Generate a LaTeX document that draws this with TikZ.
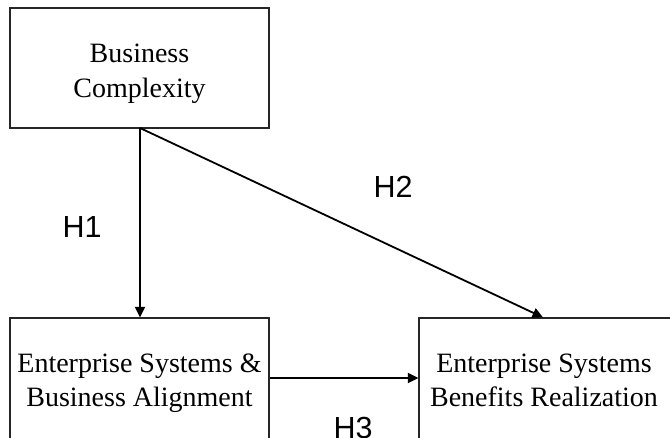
\documentclass[tikz,border=0pt]{standalone}
\usepackage{fontspec}
\setmainfont{Liberation Serif}
\newfontfamily\hfont{Liberation Sans}
\usetikzlibrary{arrows.meta}
\tikzset{
  boxnode/.style={draw=black!85, line width=1.2pt, rectangle, inner sep=0pt},
  boxtext/.style={align=center, inner sep=0pt, font=\fontsize{28}{34.5}\selectfont},
  hlabel/.style={inner sep=0pt, anchor=base, font=\hfont\fontsize{30.5}{34}\selectfont},
  conn/.style={line width=1.8pt, -{Triangle[length=10.5pt,width=10pt]}}
}
\begin{document}
\begin{tikzpicture}[x=1pt,y=-1pt]
\useasboundingbox (0,0) rectangle (670,437);
\clip (0,0) rectangle (670,437);
\fill[white] (0,0) rectangle (670,437);
\node[boxnode, minimum width=259pt, minimum height=120pt] (bc) at (139.5,68) {};
\node[boxnode, minimum width=259pt, minimum height=128pt] (ea) at (139.5,382) {};
\node[boxnode, minimum width=260pt, minimum height=128pt] (eb) at (549,382) {};
\node[boxtext] (bct) at (139.5,73.5) {Business\\Complexity};
\node[boxtext] (eat) at (139.5,383) {Enterprise Systems \&\\Business Alignment};
\node[boxtext] (ebt) at (544,380.5) {Enterprise Systems\\Benefits Realization};
\coordinate (s) at (140,128);
\draw[conn] (s) -- (s |- ea.north);
\draw[conn] (s) -- (ea.north -| 543,0);
\draw[conn] (ea.east |- 0,378) -- (eb.west |- 0,378);
\node[hlabel] (h1) at (82,237) {H1};
\node[hlabel] (h2) at (393,197) {H2};
\node[hlabel] (h3) at (353,438) {H3};
\end{tikzpicture}
\end{document}
